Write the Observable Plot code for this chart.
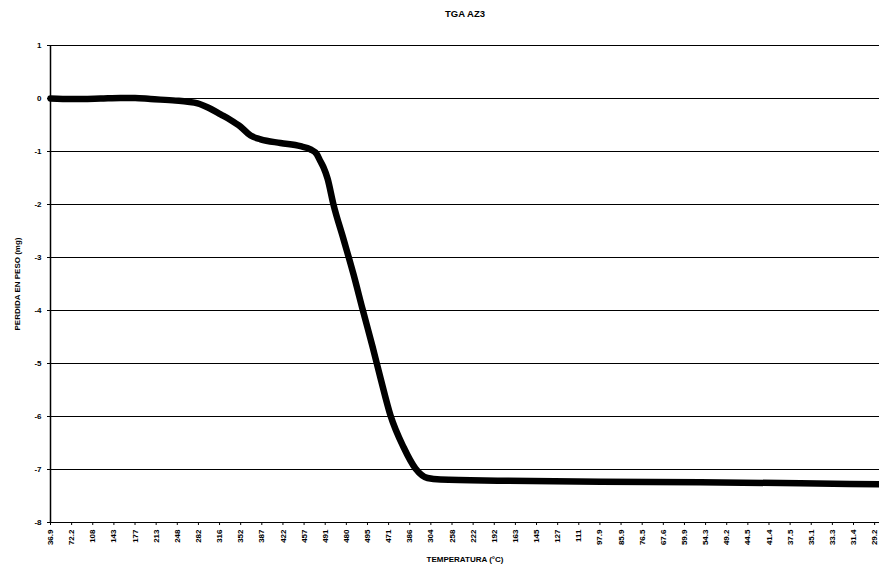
<!DOCTYPE html>
<html>
<head>
<meta charset="utf-8">
<script src="https://cdn.jsdelivr.net/npm/d3@7"></script>
<script src="https://cdn.jsdelivr.net/npm/@observablehq/plot@0.6"></script>
<style>
  html, body { margin: 0; padding: 0; background: #fff; }
  #chart svg { display: block; }
</style>
</head>
<body>
<div id="chart"></div>
<script>
// Category labels of the temperature axis (°C), one per labelled category
const tempLabels = ["36.9","72.2","108","143","177","213","248","282","316","352","387","422","457","491","480","495","471","386","304","258","222","192","163","145","127","111","97.9","85.9","76.5","67.6","59.9","54.3","49.2","44.5","41.4","37.5","35.1","33.3","31.4","29.2"];
// Position of each reading along the category axis (in label units)
const curvePos = [0, 1.0, 2.37, 3.31, 4.0, 4.73, 5.92, 6.5, 6.96, 7.5, 8.05, 8.5, 8.99, 9.47, 9.94, 10.88, 11.83, 12.3, 12.6, 12.78, 12.92, 13.11, 13.39, 13.87, 14.34, 14.77, 15.24, 15.62, 16.09, 16.71, 17.27, 17.84, 18.46, 21.3, 26.03, 30.76, 35.49, 39.23];
// Weight loss (mg)
const weightLoss = [0.0, -0.01, 0.0, 0.01, 0.01, -0.01, -0.04, -0.06, -0.09, -0.18, -0.30, -0.40, -0.53, -0.70, -0.77, -0.84, -0.90, -0.96, -1.05, -1.19, -1.3, -1.51, -2.0, -2.66, -3.32, -3.98, -4.68, -5.28, -5.98, -6.58, -6.98, -7.16, -7.19, -7.21, -7.23, -7.24, -7.26, -7.28];
const yTicks = [1, 0, -1, -2, -3, -4, -5, -6, -7, -8];

const data = curvePos.map((u, i) => ({u, v: weightLoss[i]}));
const xTicks = tempLabels.map((_, i) => i);

const chart = Plot.plot({
  width: 879,
  height: 566,
  marginTop: 45,
  marginBottom: 44,
  marginLeft: 50,
  marginRight: 0,
  style: {fontFamily: "Liberation Sans, Arial, sans-serif", fontWeight: "bold", fontSize: "8px", color: "#000", background: "#fff"},
  x: {domain: [0, 39.23], ticks: xTicks},
  y: {domain: [-8, 1], ticks: yTicks},
  marks: [
    Plot.ruleY(yTicks, {stroke: "#000", strokeWidth: 1}),
    Plot.ruleX([0], {stroke: "#000", strokeWidth: 1.5}),
    Plot.axisY({ticks: yTicks, tickFormat: d => String(d), tickSize: 3, tickPadding: 6, fill: "#000",
      label: "PERDIDA EN PESO (mg)", labelAnchor: "center", labelArrow: "none", labelOffset: 36, fontSize: 8}),
    Plot.axisX({ticks: xTicks, tickFormat: i => tempLabels[i], tickRotate: -90, tickSize: 3, tickPadding: 4, fill: "#000",
      label: "TEMPERATURA (°C)", labelAnchor: "center", labelArrow: "none", labelOffset: 39, fontSize: 8}),
    Plot.line(data, {x: "u", y: "v", stroke: "#000", strokeWidth: 6.5, curve: "monotone-x", strokeLinejoin: "round", strokeLinecap: "round"}),
    Plot.text(["TGA AZ3"], {frameAnchor: "top", dy: -35, fontSize: 9.5, fontWeight: "bold", fill: "#000"})
  ]
});
document.getElementById("chart").appendChild(chart);
</script>
</body>
</html>
